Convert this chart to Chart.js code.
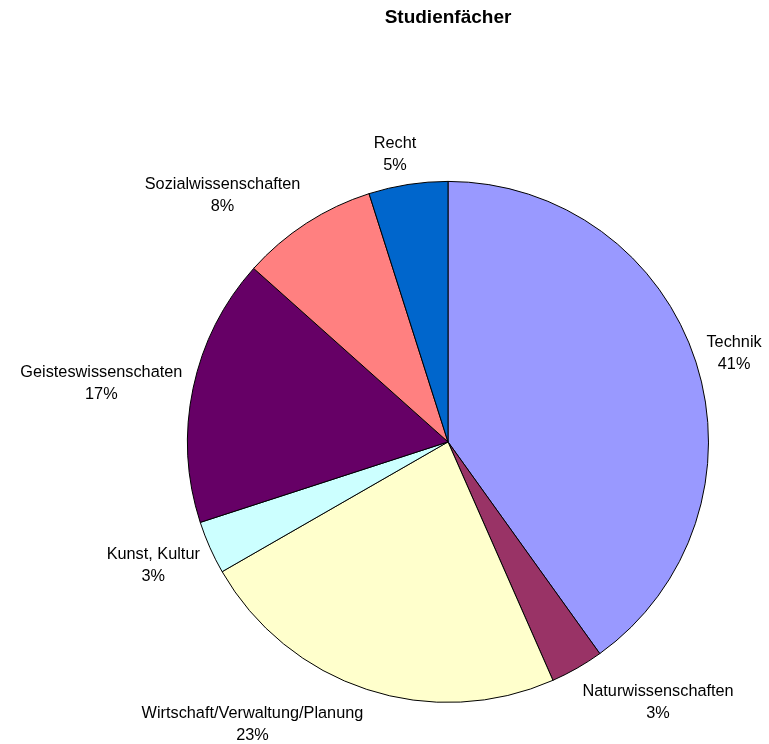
<!DOCTYPE html>
<html>
<head>
<meta charset="utf-8">
<title>Studienfächer</title>
<script src="https://cdn.jsdelivr.net/npm/chart.js@4.4.1/dist/chart.umd.min.js"></script>
<style>
	html, body { margin: 0; padding: 0; background: #fff; }
	#myChart { display: block; }
</style>
</head>
<body>
<canvas id="myChart" width="769" height="744"></canvas>
<script>
'use strict';

// *** Data ***
const aryCategories = [
	'Technik',
	'Naturwissenschaften',
	'Wirtschaft/Verwaltung/Planung',
	'Kunst, Kultur',
	'Geisteswissenschaten',
	'Sozialwissenschaften',
	'Recht',
];
const aryShares = [40.1, 3.3, 23.3, 3.3, 16.6, 8.5, 4.9];
const aryPercentLabels = ['41%', '3%', '23%', '3%', '17%', '8%', '5%'];
const aryColors = ['#9999FF', '#993366', '#FFFFCC', '#CCFFFF', '#660066', '#FF8080', '#0066CC'];

const FONT = "'Liberation Sans', Arial, sans-serif";

function clamp(v) {
	return Math.max(-1, Math.min(1, v));
}

// labels outside the pie, Excel style: box touches the arc point
const outsideLabels = {
	id: 'outsideLabels',
	afterDatasetsDraw(chart) {
		const ctx = chart.ctx;
		const meta = chart.getDatasetMeta(0);
		ctx.save();
		ctx.font = '16.3px ' + FONT;
		ctx.fillStyle = '#000';
		ctx.textAlign = 'center';
		ctx.textBaseline = 'middle';
		meta.data.forEach((arc, i) => {
			const mid = (arc.startAngle + arc.endAngle) / 2;
			const ux = Math.cos(mid);
			const uy = Math.sin(mid);
			const r = arc.outerRadius + 11;
			const ax = arc.x + r * ux;
			const ay = arc.y + r * uy;
			const lines = [aryCategories[i], aryPercentLabels[i]];
			const hw = Math.max(...lines.map((t) => ctx.measureText(t).width)) / 2;
			const hh = 22;
			const cx = ax + hw * clamp(3.5 * ux);
			const cy = ay + hh * clamp(1.2 * uy) + 3;
			ctx.fillText(lines[0], cx, cy - 11);
			ctx.fillText(lines[1], cx, cy + 11);
		});
		ctx.restore();
	},
};

function chartIt() {
	const config = {
		type: 'pie',
		data: {
			labels: aryCategories,
			datasets: [{
				data: aryShares,
				backgroundColor: aryColors,
				borderColor: '#000',
				borderWidth: 1,
			}],
		},
		options: {
			responsive: false,
			animation: false,
			layout: {
				padding: { left: 187, right: 60, top: 0, bottom: 41 },
			},
			plugins: {
				legend: { display: false },
				tooltip: { enabled: false },
				title: {
					display: true,
					text: 'Studienfächer',
					color: '#000',
					font: { family: FONT, size: 19, weight: 'bold', lineHeight: 1.2 },
					padding: { top: 6, bottom: 152 },
				},
			},
		},
		plugins: [outsideLabels],
	};
	return new Chart(document.getElementById('myChart'), config);
}

// *** Entry Point ***
chartIt();
</script>
</body>
</html>
